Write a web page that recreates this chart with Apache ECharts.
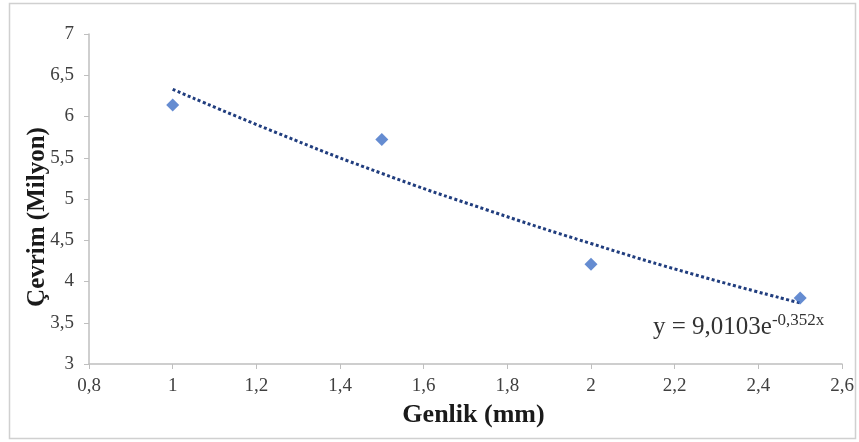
<!DOCTYPE html>
<html><head><meta charset="utf-8">
<script src="https://cdn.jsdelivr.net/npm/echarts@6/dist/echarts.min.js"></script>
<style>html,body{margin:0;padding:0;background:#fff}#c{width:859px;height:442px}</style>
</head><body><div id="c"></div>
<script>
var pointX = [1, 1.5, 2, 2.5];
var pointY = [6.14, 5.72, 4.21, 3.80];
var trendX = [1, 1.25, 1.5, 1.75, 2, 2.25, 2.5];
var trendY = [6.33, 5.80, 5.31, 4.87, 4.46, 4.08, 3.74];
var xTicks = [0.8, 2.6, 0.2];
var yTicks = [3, 7, 0.5];
var equationMain = 'y = 9,0103e';
var equationSup = '-0,352x';

function zip(a, b) { return a.map(function (v, i) { return [v, b[i]]; }); }
function fmt(v) { return String(Math.round(v * 10) / 10).replace('.', ','); }

var chart = echarts.init(document.getElementById('c'));
chart.setOption({
  animation: false,
  backgroundColor: '#fff',
  grid: { left: 89, right: 17, top: 34, bottom: 78 },
  xAxis: {
    type: 'value', min: xTicks[0], max: xTicks[1], interval: xTicks[2],
    name: 'Genlik (mm)', nameLocation: 'middle', nameGap: 38,
    nameTextStyle: { fontFamily: 'Liberation Serif', fontWeight: 'bold', fontSize: 26, color: '#1a1a1a', padding: [0, 0, 0, 16] },
    axisLine: { lineStyle: { color: '#BFBFBF', width: 1.5 } },
    axisTick: { show: true, length: 5, lineStyle: { color: '#BFBFBF' } },
    axisLabel: { formatter: fmt, fontFamily: 'Liberation Serif', fontSize: 19, color: '#404040', margin: 13 },
    splitLine: { show: false }
  },
  yAxis: {
    type: 'value', min: yTicks[0], max: yTicks[1], interval: yTicks[2],
    name: 'Çevrim (Milyon)', nameLocation: 'middle', nameGap: 39, nameMoveOverlap: false,
    nameTextStyle: { fontFamily: 'Liberation Serif', fontWeight: 'bold', fontSize: 25, color: '#1a1a1a', padding: [0, 36, 0, 0] },
    axisLine: { show: true, lineStyle: { color: '#BFBFBF', width: 1.5 } },
    axisTick: { show: true, length: 5, lineStyle: { color: '#BFBFBF' } },
    axisLabel: { formatter: fmt, fontFamily: 'Liberation Serif', fontSize: 19, color: '#404040', margin: 15 },
    splitLine: { show: false }
  },
  series: [
    {
      type: 'line', data: zip(trendX, trendY), smooth: true, symbol: 'none',
      lineStyle: { color: '#203D7E', width: 3, type: [3, 2.5] }, z: 2
    },
    {
      type: 'scatter', data: zip(pointX, pointY), symbol: 'diamond', symbolSize: 13,
      itemStyle: { color: '#3F6FC6' }, z: 3
    }
  ],
  graphic: [
    { type: 'rect', shape: { x: 9.5, y: 3.5, width: 846, height: 435 }, style: { fill: null, stroke: '#D0D0D0', lineWidth: 1.5 }, silent: true },
    { type: 'text', left: 653, top: 312, style: {
        text: '{m|' + equationMain + '}{s|' + equationSup + '}',
        rich: {
          m: { fontFamily: 'Liberation Serif', fontSize: 25, fill: '#333', verticalAlign: 'bottom' },
          s: { fontFamily: 'Liberation Serif', fontSize: 17, fill: '#333', padding: [0, 0, 11, 0], verticalAlign: 'bottom' }
        }
      } }
  ]
});
</script></body></html>
